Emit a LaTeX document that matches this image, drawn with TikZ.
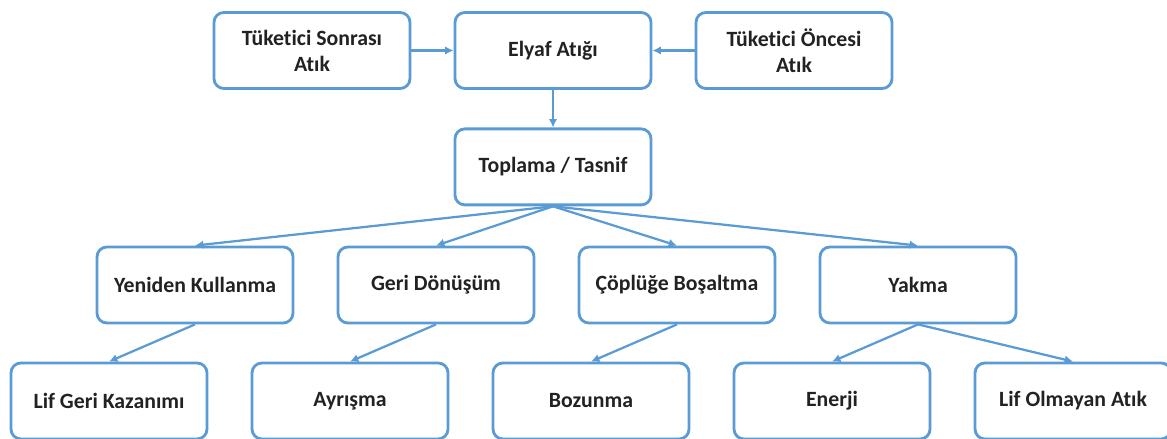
\documentclass[tikz,border=0pt]{standalone}
\usepackage{fontspec}
\setmainfont{Carlito}[Ligatures=NoCommon]
\usetikzlibrary{arrows.meta,positioning}
\definecolor{WasteBlue}{HTML}{5B9BD5}
\definecolor{WasteText}{HTML}{222222}
\tikzset{
  link/.style={-{Latex[length=6pt,width=6pt]}, line width=1.6pt, draw=WasteBlue},
  box/.style={rounded corners=7pt, draw=WasteBlue, fill=white, line width=2pt,
              minimum width=4.9cm, minimum height=1.9cm, align=center, text=WasteText,
              font=\fontsize{15.5}{18.5}\selectfont\bfseries},
}

\begin{document}
\begin{tikzpicture}[node distance=0.94cm and 1.055cm]
    \useasboundingbox (0,0) rectangle (29.175,10.975);
    \node[box] (elyaf) at (13.825,9.7125) {Elyaf Atığı};
    \node[box,left=of elyaf] (sonra) {Tüketici Sonrası\\Atık};
    \node[box,right=of elyaf] (once) {Tüketici Öncesi\\Atık};
    \node[box,below=of elyaf] (toplama) {Toplama / Tasnif};
    % second row
    \node[box] (yeniden) at (4.875,3.85) {Yeniden Kullanma};
    \node[box,right=of yeniden] (geri) {Geri Dönüşüm};
    \node[box,right=of geri] (cop) {Çöplüğe Boşaltma};
    \node[box,right=of cop] (yakma) {Yakma};
    % bottom row
    \node[box] (lif) at (2.725,0.95) {Lif Geri Kazanımı};
    \node[box,right=of lif] (ayrisma) {Ayrışma};
    \node[box,right=of ayrisma] (bozunma) {Bozunma};
    \node[box,right=of bozunma] (enerji) {Enerji};
    \node[box,right=of enerji] (lifsiz) {Lif Olmayan Atık};
    \draw[link] (sonra) -- (elyaf);
    \draw[link] (once) -- (elyaf);
    \draw[link] (elyaf) -- (toplama);
    \foreach \n in {yeniden,geri,cop,yakma}
      \draw[link] (toplama.south) -- (\n.north);
    \draw[link] (yeniden.south) -- (lif.north);
    \draw[link] (geri.south) -- (ayrisma.north);
    \draw[link] (cop.south) -- (bozunma.north);
    \draw[link] (yakma.south) -- (enerji.north);
    \draw[link] (yakma.south) -- (lifsiz.north);
  \end{tikzpicture}
\end{document}
